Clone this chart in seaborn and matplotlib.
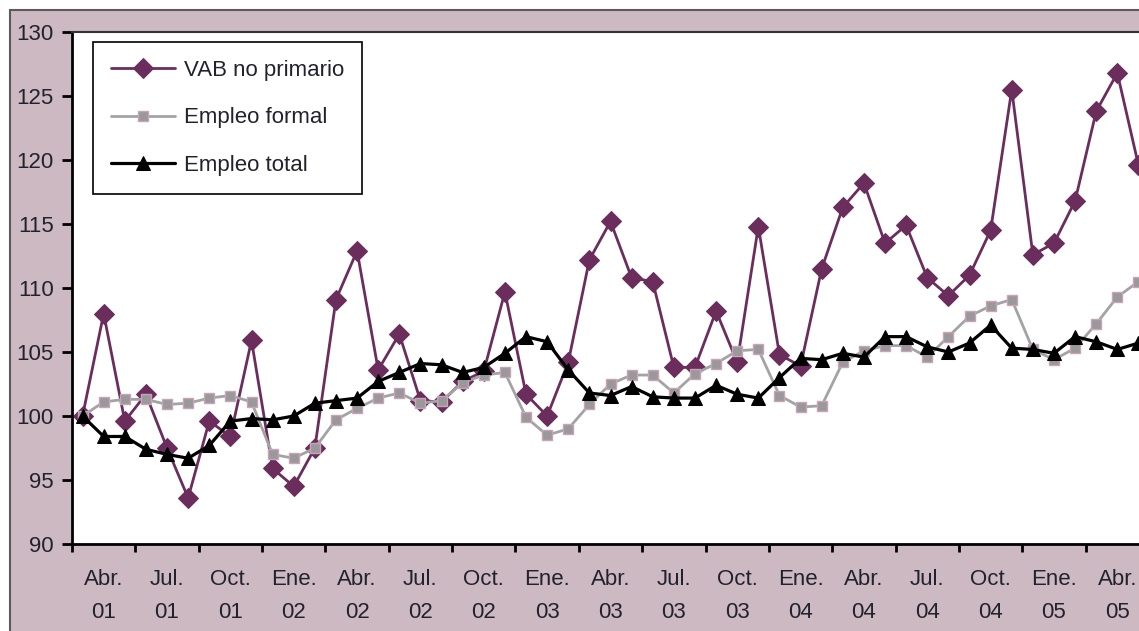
import matplotlib
matplotlib.use("Agg")
import matplotlib.pyplot as plt
from matplotlib.patches import Rectangle
import seaborn as sns
import pandas as pd

# monthly index values, Mar 01 .. May 05
vab_no_primario = [100.0, 108.0, 99.6, 101.7, 97.5, 93.6, 99.6, 98.4, 105.9, 95.9,
                   94.5, 97.5, 109.1, 112.9, 103.6, 106.4, 101.2, 101.1, 102.7, 103.5,
                   109.7, 101.7, 100.0, 104.2, 112.2, 115.2, 110.8, 110.5, 103.8, 103.8,
                   108.2, 104.2, 114.8, 104.8, 103.9, 111.5, 116.3, 118.2, 113.5, 114.9,
                   110.8, 109.4, 111.0, 114.5, 125.5, 112.6, 113.5, 116.8, 123.8, 126.8,
                   119.6]
empleo_formal = [100.0, 101.1, 101.3, 101.3, 100.9, 101.0, 101.4, 101.6, 101.1, 97.0,
                 96.7, 97.5, 99.7, 100.6, 101.4, 101.8, 101.0, 101.2, 102.6, 103.2,
                 103.4, 99.9, 98.5, 99.0, 100.9, 102.5, 103.2, 103.2, 101.8, 103.3,
                 104.1, 105.1, 105.2, 101.6, 100.7, 100.8, 104.2, 105.1, 105.5, 105.5,
                 104.6, 106.2, 107.8, 108.6, 109.1, 105.2, 104.4, 105.3, 107.2, 109.3,
                 110.5]
empleo_total = [100.0, 98.4, 98.4, 97.4, 97.0, 96.7, 97.7, 99.6, 99.8, 99.7,
                100.0, 101.0, 101.2, 101.4, 102.7, 103.4, 104.1, 104.0, 103.4, 103.8,
                104.9, 106.2, 105.8, 103.6, 101.8, 101.6, 102.3, 101.5, 101.4, 101.4,
                102.4, 101.7, 101.4, 103.0, 104.5, 104.4, 104.9, 104.6, 106.2, 106.2,
                105.4, 105.0, 105.7, 107.1, 105.3, 105.2, 104.9, 106.2, 105.8, 105.2,
                105.7]
tick_labels = ['Abr.\n01', 'Jul.\n01', 'Oct.\n01', 'Ene.\n02', 'Abr.\n02', 'Jul.\n02',
               'Oct.\n02', 'Ene.\n03', 'Abr.\n03', 'Jul.\n03', 'Oct.\n03', 'Ene.\n04',
               'Abr.\n04', 'Jul.\n04', 'Oct.\n04', 'Ene.\n05', 'Abr.\n05']

df = pd.DataFrame({'mes': range(len(vab_no_primario)),
                   'VAB no primario': vab_no_primario,
                   'Empleo formal': empleo_formal,
                   'Empleo total': empleo_total})

sns.set_theme(style='white')
plt.rcParams['font.family'] = ['Liberation Sans Narrow', 'Liberation Sans', 'DejaVu Sans']
txt = '#22222e'

fig = plt.figure(figsize=(11.39, 6.31), dpi=100)
fig.patch.set_facecolor('white')
bg = Rectangle((10 / 1139, -0.01), 1.0, 621 / 631 + 0.01,
               transform=fig.transFigure, facecolor='#cdb9c1',
               edgecolor='#5a5a5a', linewidth=1.5, zorder=-10)
fig.add_artist(bg)

ax = fig.add_axes([72 / 1139, 87 / 631, 1077 / 1139, 512 / 631])
ax.set_zorder(1)
ax.set_facecolor('white')

sns.lineplot(data=df, x='mes', y='VAB no primario', ax=ax, color='#6b2d5c',
             linewidth=2, marker='D', markersize=10.5, markeredgecolor='#6b2d5c',
             label='VAB no primario', clip_on=False)
sns.lineplot(data=df, x='mes', y='Empleo formal', ax=ax, color='#a3a3a3',
             linewidth=2, marker='s', markersize=7, markerfacecolor='#999999',
             markeredgecolor='#c9a3ba', markeredgewidth=1, label='Empleo formal')
sns.lineplot(data=df, x='mes', y='Empleo total', ax=ax, color='black',
             linewidth=2.3, marker='^', markersize=10.5, markeredgecolor='black',
             label='Empleo total')

ax.set_xlim(-0.5, 50.5)
ax.set_ylim(90, 130)
ax.set_yticks(range(90, 131, 5))
ax.set_xlabel('')
ax.set_ylabel('')

# tick marks at the quarter boundaries, labels centred in each quarter
ax.set_xticks([-0.5 + 3 * k for k in range(17)])
ax.set_xticklabels([])
ax.set_xticks([1 + 3 * k for k in range(17)], minor=True)
ax.set_xticklabels(tick_labels, minor=True, fontsize=16, color=txt, linespacing=1.75)
ax.tick_params(axis='x', which='major', direction='out', length=6, width=2,
               color='black', bottom=True)
ax.tick_params(axis='x', which='minor', length=0, pad=18)
ax.tick_params(axis='y', direction='out', length=7, width=2, color='black',
               left=True, pad=6, labelsize=16, labelcolor=txt)

for side in ['left', 'bottom']:
    ax.spines[side].set_color('black')
    ax.spines[side].set_linewidth(2)
ax.spines['top'].set_color('#333333')
ax.spines['top'].set_linewidth(1.5)
ax.spines['right'].set_visible(False)

leg = ax.legend(loc='upper left', bbox_to_anchor=(21 / 1077, 502 / 512),
                borderaxespad=0, fontsize=16, frameon=True, fancybox=False,
                framealpha=1, edgecolor='black', handlelength=2.9,
                handletextpad=0.4, labelspacing=1.2, borderpad=0.8)
leg.get_frame().set_linewidth(1.2)
for t in leg.get_texts():
    t.set_color(txt)

fig.savefig('out.png', dpi=100)
